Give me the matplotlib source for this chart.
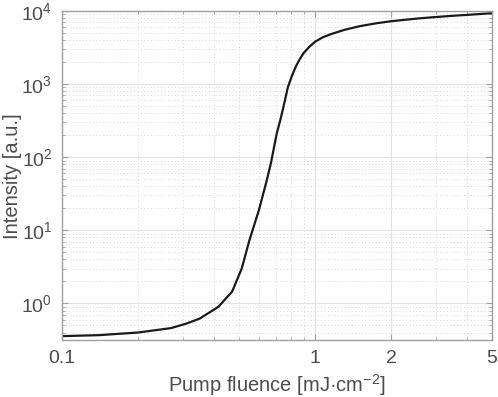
import matplotlib
matplotlib.use("Agg")
import matplotlib.pyplot as plt
from matplotlib.ticker import FixedLocator, NullFormatter, LogLocator, LogFormatterSciNotation

plt.rcParams['font.family'] = ['Liberation Sans', 'DejaVu Sans']
plt.rcParams['mathtext.fontset'] = 'custom'
plt.rcParams['mathtext.rm'] = 'Liberation Sans'
plt.rcParams['mathtext.default'] = 'rm'

# data
fluence = [0.1, 0.14, 0.2, 0.27, 0.31, 0.35, 0.415, 0.47, 0.513, 0.55, 0.6, 0.644,
           0.67, 0.705, 0.73, 0.76, 0.78, 0.81, 0.84, 0.87, 0.90, 0.95, 1.0, 1.07,
           1.15, 1.3, 1.5, 1.75, 2.0, 2.5, 2.9, 3.5, 4.0, 5.0]
intensity = [0.357, 0.368, 0.40, 0.46, 0.53, 0.62, 0.90, 1.45, 3.0, 7.3, 19, 48,
             85, 210, 330, 600, 900, 1300, 1750, 2200, 2650, 3250, 3800, 4350,
             4800, 5500, 6200, 6800, 7250, 7850, 8200, 8600, 8850, 9330]
xticks = [0.1, 1, 2, 5]
xticklabels = ["0.1", "1", "2", "5"]
xminor = [0.2, 0.3, 0.4, 0.5, 0.6, 0.7, 0.8, 0.9, 3, 4]

txt = "#4d4d4d"
spine = "#a0a0a0"

fig = plt.figure(figsize=(4.98, 3.97), dpi=100)
ax = fig.add_axes([0.1245, 0.1436, 0.8635, 0.8287])
ax.plot(fluence, intensity, color="#1a1a1a", lw=1.6, solid_joinstyle="round")
ax.set_xscale("log"); ax.set_yscale("log")
ax.set_xlim(0.1, 5); ax.set_ylim(0.316, 1e4)

ax.xaxis.set_major_locator(FixedLocator(xticks))
ax.set_xticklabels(xticklabels)
ax.xaxis.set_minor_locator(FixedLocator(xminor))
ax.xaxis.set_minor_formatter(NullFormatter())
ax.yaxis.set_major_locator(LogLocator(base=10, numticks=10))
ax.yaxis.set_major_formatter(LogFormatterSciNotation())
ax.yaxis.set_minor_locator(LogLocator(base=10, subs=range(2, 10), numticks=20))
ax.yaxis.set_minor_formatter(NullFormatter())

ax.grid(True, which="major", color="#e3e3e3", lw=0.8, ls="-")
ax.grid(True, which="minor", color="#d6d6d6", lw=0.7, ls=(0, (1, 2.5)))
ax.set_axisbelow(True)

for s in ax.spines.values():
    s.set_color(spine); s.set_linewidth(1.0)
ax.tick_params(which="both", direction="in", top=True, right=True, colors=spine,
               labelcolor=txt, labelsize=14)
ax.tick_params(which="major", length=4.5, pad=7)
ax.tick_params(which="minor", length=2.5)

ax.set_xlabel("Pump fluence [mJ·cm$^{-2}$]", fontsize=14.5, color=txt, labelpad=4)
fig.text(12 / 498, 1 - 176 / 397, "Intensity [a.u.]", rotation=90, fontsize=14.5,
         color=txt, ha="center", va="center")

fig.savefig("out.png", dpi=100)
